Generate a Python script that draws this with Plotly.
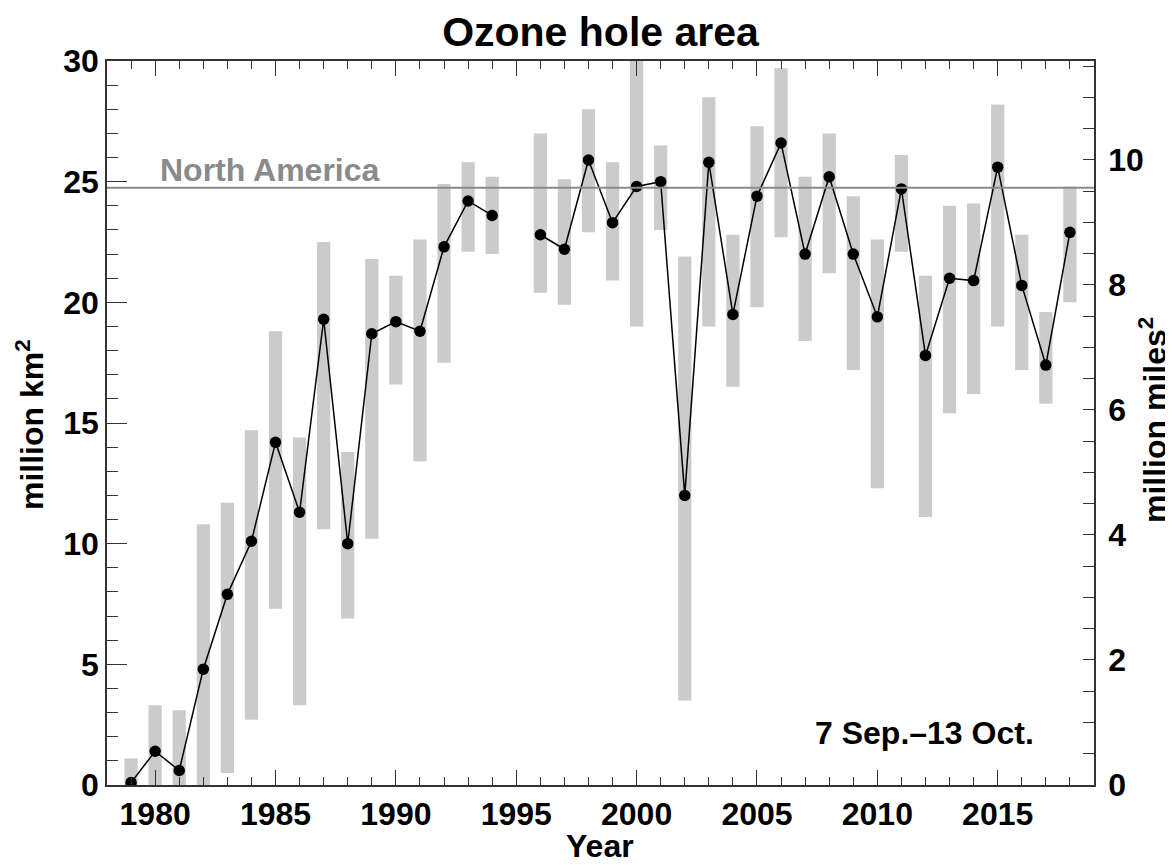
import numpy as np
import plotly.graph_objects as go

# ---------------- data (million km^2) ----------------
years = list(range(1979, 2019))
mean_area = [0.1, 1.4, 0.6, 4.8, 7.9, 10.1, 14.2, 11.3, 19.3, 10.0,
             18.7, 19.2, 18.8, 22.3, 24.2, 23.6, None, 22.8, 22.2, 25.9,
             23.3, 24.8, 25.0, 12.0, 25.8, 19.5, 24.4, 26.6, 22.0, 25.2,
             22.0, 19.4, 24.7, 17.8, 21.0, 20.9, 25.6, 20.7, 17.4, 22.9]
max_area = [1.1, 3.3, 3.1, 10.8, 11.7, 14.7, 18.8, 14.4, 22.5, 13.8,
            21.8, 21.1, 22.6, 24.9, 25.8, 25.2, None, 27.0, 25.1, 28.0,
            25.8, 30.0, 26.5, 21.9, 28.5, 22.8, 27.3, 29.7, 25.2, 27.0,
            24.4, 22.6, 26.1, 21.1, 24.0, 24.1, 28.2, 22.8, 19.6, 24.8]
min_area = [0.0, 0.0, 0.0, 0.0, 0.5, 2.7, 7.3, 3.3, 10.6, 6.9,
            10.2, 16.6, 13.4, 17.5, 22.1, 22.0, None, 20.4, 19.9, 22.9,
            20.9, 19.0, 23.0, 3.5, 19.0, 16.5, 19.8, 22.7, 18.4, 21.2,
            17.2, 12.3, 22.1, 11.1, 15.4, 16.2, 19.0, 17.2, 15.8, 20.0]
north_america = 24.75
KM2_PER_MI2 = 2.58999
x_ticks = [1980, 1985, 1990, 1995, 2000, 2005, 2010, 2015]
y_ticks = [0, 5, 10, 15, 20, 25, 30]
y2_ticks = [0, 2, 4, 6, 8, 10]

mean_arr = np.array([np.nan if v is None else v for v in mean_area], dtype=float)
max_arr = np.array([np.nan if v is None else v for v in max_area], dtype=float)
min_arr = np.array([np.nan if v is None else v for v in min_area], dtype=float)

FONT = "Liberation Sans"
GRAY_BAR = "#cbcbcb"

# the page body adds an 8px offset, so the figure is 8px smaller each way
W, H = 1165, 857
ML, MT, PW, PH = 99, 53, 987, 724

fig = go.Figure()

fig.add_trace(go.Bar(
    x=years, y=max_arr - min_arr, base=min_arr, width=0.55,
    marker=dict(color=GRAY_BAR, line=dict(width=0)),
    hoverinfo="skip", yaxis="y"))

fig.add_trace(go.Scatter(
    x=years, y=mean_arr, mode="lines+markers", connectgaps=False,
    line=dict(color="black", width=1.5),
    marker=dict(color="black", size=11.5), yaxis="y"))

# invisible trace on secondary axis (million miles^2)
fig.add_trace(go.Scatter(
    x=years, y=mean_arr / KM2_PER_MI2, mode="markers",
    marker=dict(opacity=0), hoverinfo="skip", yaxis="y2"))

fig.add_shape(type="line", xref="paper", x0=0, x1=1, yref="y",
              y0=north_america, y1=north_america,
              line=dict(color="#8a8a8a", width=2))

tickfont = dict(family=FONT, size=32, color="black", weight="bold")
labfont = dict(family=FONT, size=32, color="black", weight="bold")


def px_x(page_x):
    return (page_x - 8 - ML) / PW


def px_y(page_y):
    return (MT + PH - (page_y - 8)) / PH


fig.update_layout(
    width=W, height=H,
    margin=dict(l=ML, r=W - ML - PW, t=MT, b=H - MT - PH, autoexpand=False),
    paper_bgcolor="white", plot_bgcolor="white",
    showlegend=False,
    barmode="overlay",
    title=dict(text="Ozone hole area", x=0.5, xref="paper",
               y=1 - (32 - 8) / H, yref="container", yanchor="middle",
               font=dict(family=FONT, size=41, color="black", weight="bold")),
    xaxis=dict(range=[1978, 2019], tickvals=x_ticks, showgrid=False,
               zeroline=False, showline=True, linecolor="#333333", linewidth=1.5,
               mirror="ticks", ticks="inside", ticklen=15, tickwidth=1.3,
               tickcolor="#333333", tickfont=tickfont, automargin=False,
               minor=dict(dtick=1, tick0=1978, ticks="inside", ticklen=8,
                          tickwidth=1.2, tickcolor="#333333", showgrid=False)),
    yaxis=dict(range=[0, 30], tickvals=y_ticks, showgrid=False,
               zeroline=False, showline=True, linecolor="#333333", linewidth=1.5,
               ticks="inside", ticklen=20, tickwidth=1.3, tickcolor="#333333",
               tickfont=tickfont, ticklabelstandoff=0, automargin=False,
               minor=dict(dtick=1, tick0=0, ticks="inside", ticklen=11,
                          tickwidth=1.2, tickcolor="#333333", showgrid=False)),
    yaxis2=dict(range=[0, 30 / KM2_PER_MI2], tickvals=y2_ticks,
                overlaying="y", side="right", showgrid=False, zeroline=False,
                showline=True, linecolor="#333333", linewidth=1.5,
                ticks="inside", ticklen=11, tickwidth=1.3, tickcolor="#333333",
                tickfont=tickfont, ticklabelstandoff=6, automargin=False,
                minor=dict(dtick=0.5, tick0=0, ticks="inside", ticklen=11,
                           tickwidth=1.2, tickcolor="#333333", showgrid=False)),
    annotations=[
        dict(text="Year", xref="paper", yref="paper", x=px_x(600), y=px_y(846),
             xanchor="center", yanchor="middle", showarrow=False, font=labfont),
        dict(text="million km<sup>2</sup>", xref="paper", yref="paper",
             x=px_x(30), y=px_y(425), textangle=-90,
             xanchor="center", yanchor="middle", showarrow=False, font=labfont),
        dict(text="million miles<sup>2</sup>", xref="paper", yref="paper",
             x=px_x(1153), y=px_y(420), textangle=-90,
             xanchor="center", yanchor="middle", showarrow=False, font=labfont),
        dict(text="North America", xref="paper", yref="y",
             x=px_x(158), y=25.48, xanchor="left", yanchor="middle",
             showarrow=False,
             font=dict(family=FONT, size=32, color="#8a8a8a", weight="bold")),
        dict(text="7 Sep.\u201313 Oct.", xref="paper", yref="y",
             x=px_x(1036), y=2.15, xanchor="right", yanchor="middle",
             showarrow=False, font=labfont),
    ],
)

fig.write_html("out.html")
